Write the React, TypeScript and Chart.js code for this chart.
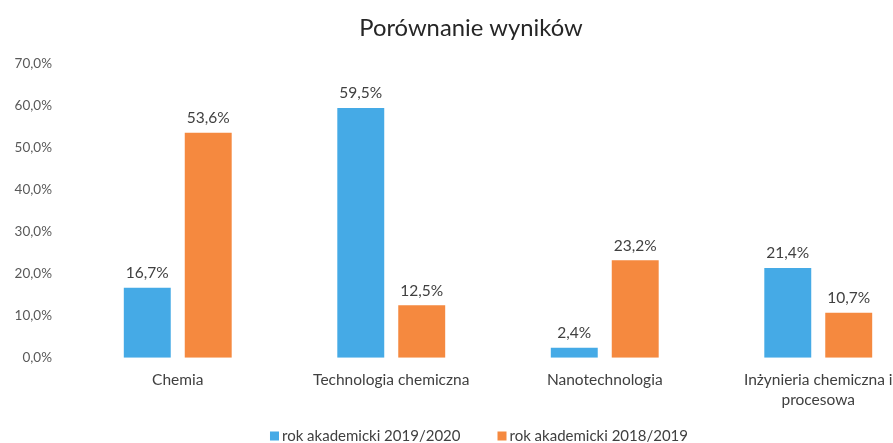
import React, { useEffect, useRef } from "react";
import { Chart, registerables } from "chart.js";

Chart.register(...registerables);

const categories: (string | string[])[] = [
  "Chemia",
  "Technologia chemiczna",
  "Nanotechnologia",
  ["Inżynieria chemiczna i", "procesowa"],
];
const series2019_2020 = [16.7, 59.5, 2.4, 21.4];
const series2018_2019 = [53.6, 12.5, 23.2, 10.7];
const seriesNames = ["rok akademicki 2019/2020", "rok akademicki 2018/2019"];
const seriesColors = ["#45aae6", "#f5893f"];
const title = "Porównanie wyników";

const FONT = "Lato, 'Open Sans', sans-serif";
const fmt = (v: number) => v.toFixed(1).replace(".", ",") + "%";

const dataLabels = {
  id: "dataLabels",
  afterDatasetsDraw(chart: any) {
    const ctx = chart.ctx;
    ctx.save();
    ctx.font = `15.5px ${FONT}`;
    ctx.fillStyle = "#404040";
    ctx.textAlign = "center";
    ctx.textBaseline = "bottom";
    chart.data.datasets.forEach((ds: any, i: number) => {
      const meta = chart.getDatasetMeta(i);
      meta.data.forEach((el: any, j: number) => {
        ctx.fillText(fmt(ds.data[j]), el.x, el.y - 7);
      });
    });
    ctx.restore();
  },
};

const titleAndLegend = {
  id: "titleAndLegend",
  afterDraw(chart: any) {
    const ctx = chart.ctx;
    const cx = chart.width / 2;
    ctx.save();
    // title
    ctx.font = `23.8px ${FONT}`;
    ctx.fillStyle = "#262626";
    ctx.textAlign = "center";
    ctx.textBaseline = "middle";
    ctx.fillText(title, cx, 28);
    // legend
    ctx.font = `15px ${FONT}`;
    const box = 9;
    const boxGap = 3;
    const itemGap = 37;
    const items = chart.data.datasets.map((ds: any) => ({
      text: ds.label,
      color: ds.backgroundColor,
      w: box + boxGap + ctx.measureText(ds.label).width,
    }));
    const total =
      items.reduce((s: number, it: any) => s + it.w, 0) + itemGap * (items.length - 1);
    let x = cx + 8 - total / 2;
    const y = 436;
    ctx.textAlign = "left";
    items.forEach((it: any) => {
      ctx.fillStyle = it.color;
      ctx.fillRect(x, y - box / 2, box, box);
      ctx.fillStyle = "#404040";
      ctx.fillText(it.text, x + box + boxGap, y);
      x += it.w + itemGap;
    });
    ctx.restore();
  },
};

export default function App() {
  const ref = useRef<HTMLCanvasElement>(null);
  useEffect(() => {
    if (!ref.current) return;
    const chart = new Chart(ref.current, {
      type: "bar",
      data: {
        labels: categories,
        datasets: [
          {
            label: seriesNames[0],
            data: series2019_2020,
            backgroundColor: seriesColors[0],
            categoryPercentage: 0.571,
            barPercentage: 0.77,
          },
          {
            label: seriesNames[1],
            data: series2018_2019,
            backgroundColor: seriesColors[1],
            categoryPercentage: 0.571,
            barPercentage: 0.77,
          },
        ],
      },
      options: {
        responsive: false,
        animation: false,
        layout: { padding: { left: 0, right: 17, top: 64, bottom: 21 } },
        plugins: {
          title: { display: false },
          legend: { display: false },
          tooltip: { enabled: false },
        },
        scales: {
          x: {
            grid: { display: false, drawTicks: false },
            border: { display: false },
            ticks: {
              color: "#404040",
              font: { family: FONT, size: 15.5, lineHeight: 1.3 },
              padding: 12,
              maxRotation: 0,
              autoSkip: false,
            },
          },
          y: {
            min: 0,
            max: 70,
            grid: { display: false, drawTicks: false },
            border: { display: false },
            ticks: {
              stepSize: 10,
              color: "#595959",
              font: { family: FONT, size: 13.5 },
              padding: 19,
              callback: (v: any) => fmt(Number(v)),
            },
            afterFit: (scale: any) => {
              scale.width = 71;
            },
          },
        },
      },
      plugins: [dataLabels, titleAndLegend],
    });
    return () => chart.destroy();
  }, []);
  return (
    <div
      style={{
        position: "fixed",
        left: 0,
        top: 0,
        width: 893,
        height: 443,
        overflow: "hidden",
        background: "#fff",
      }}
    >
      <canvas ref={ref} width={942} height={443} style={{ display: "block" }} />
    </div>
  );
}
